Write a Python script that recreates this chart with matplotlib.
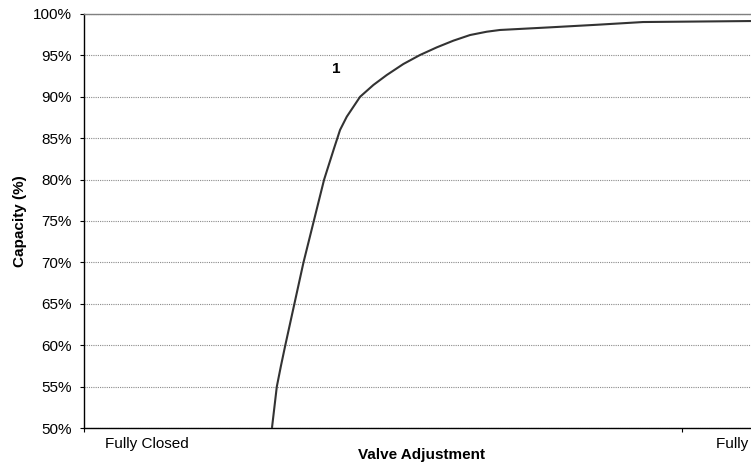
import matplotlib
matplotlib.use("Agg")
import matplotlib.pyplot as plt

# Valve travel (0 = fully closed, 100 = fully open) and resulting capacity (%)
valve_travel = [21.0, 21.4, 21.8, 22.48, 23.2, 24.7, 26.2, 27.9, 29.6, 31.24,
                32.23, 33.34, 35.53, 37.73, 39.93, 42.67, 45.42, 48.18, 50.92,
                53.67, 56.42, 58.6, 66.9, 74.6, 82.2, 100.0]
capacity_pct = [50.0, 52.5, 55.0, 57.5, 60.0, 65.0, 70.0, 75.0, 80.0, 83.78,
                86.0, 87.6, 90.0, 91.43, 92.63, 93.96, 95.05, 95.97, 96.78,
                97.46, 97.86, 98.07, 98.39, 98.7, 99.03, 99.15]
curve_label = "1"
x_tick_labels = ["Fully Closed", "Fully Open"]
y_ticks = list(range(50, 101, 5))

plt.rcParams["font.family"] = ["Liberation Sans", "DejaVu Sans"]
FS = 11

fig = plt.figure(figsize=(7.51, 4.65), dpi=100)
ax = fig.add_axes([84 / 751, 37 / 465, (811.6 - 84) / 751, 414 / 465])

ax.plot(valve_travel, capacity_pct, color="#333333", lw=1.5,
        solid_capstyle="butt", solid_joinstyle="round", zorder=3)
ax.text(31.6, 93.4, curve_label, fontsize=FS, fontweight="bold",
        ha="center", va="center")

ax.set_xlim(-10, 110)
ax.set_ylim(50, 100)

ax.set_yticks(y_ticks)
ax.set_yticklabels([f"{v}%" for v in y_ticks], fontsize=FS)
ax.yaxis.grid(True, color="#8a8a8a", linestyle=(0, (1, 1)), linewidth=0.8)
ax.set_axisbelow(True)

# Tick marks on the category axis, labels placed at the travel ends
ax.set_xticks([-10, 88.6])
ax.set_xticklabels(["", ""])
ax.set_xticks([0.3, 100.3], minor=True)
ax.set_xticklabels(x_tick_labels, minor=True, fontsize=FS)
ax.tick_params(axis="x", which="major", length=3, width=0.8, direction="out")
ax.tick_params(axis="x", which="minor", length=0, pad=6.5)
ax.tick_params(axis="y", length=3, width=0.8, pad=6)

ax.spines["right"].set_visible(False)
ax.spines["top"].set_color("#808080")
ax.spines["top"].set_linewidth(1.0)
ax.spines["left"].set_linewidth(1.0)
ax.spines["bottom"].set_linewidth(1.0)

fig.text(20 / 751, 1 - 221 / 465, "Capacity (%)", fontsize=FS,
         fontweight="bold", rotation=90, ha="center", va="center")
fig.text(422 / 751, 1 - 455 / 465, "Valve Adjustment", fontsize=FS,
         fontweight="bold", ha="center", va="center")

fig.savefig("out.png", dpi=100)
